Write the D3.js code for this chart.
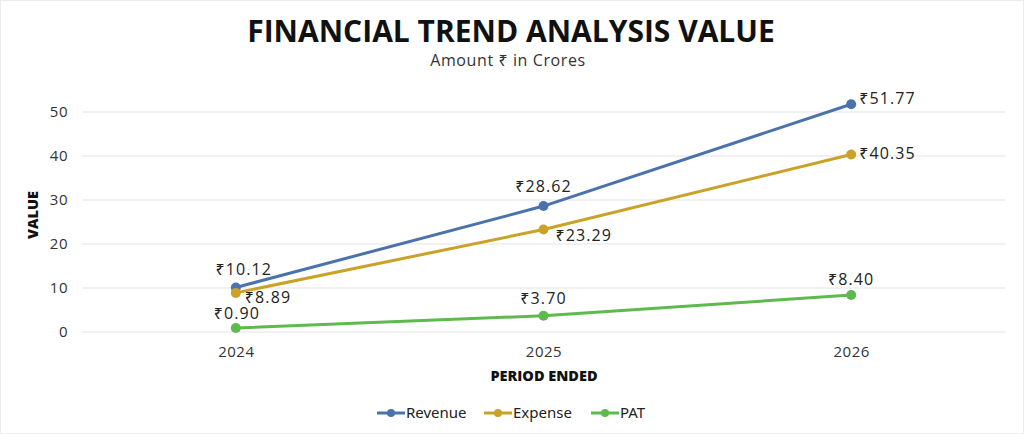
<!DOCTYPE html>
<html lang="en">
<head>
  <meta charset="UTF-8">
  <title>Financial Trend Analysis Value</title>
  <style>
    html, body { margin: 0; padding: 0; background: #fff; }
    * { font-family: 'Open Sans', 'Noto Sans', Arial, sans-serif; }
    #chart { width: 1024px; height: 434px; }
  </style>
</head>
<body>
  <div id="chart"></div>
<script src="https://d3js.org/d3.v7.min.js"></script>
<script>
    // data
    var years = ["2024", "2025", "2026"];
    var revenue = [10.12, 28.62, 51.77];
    var expense = [8.89, 23.29, 40.35];
    var pat = [0.90, 3.70, 8.40];
    var seriesNames = ["Revenue", "Expense", "PAT"];
    var yTicks = [0, 10, 20, 30, 40, 50];

    var colors = {Revenue: "#4a72ad", Expense: "#c9a227", PAT: "#5dba4c"};
    // label offset per series/point: [dx, dy, anchor]
    var labelPos = {
        Revenue: [[8, -12, "middle"], [0, -14, "middle"], [8, 0, "start"]],
        Expense: [[9, 10, "start"], [12, 11, "start"], [8, 5, "start"]],
        PAT: [[1, -9, "middle"], [0, -12, "middle"], [0, -10, "middle"]]
    };

    var width = 1024, height = 434;
    var margin = {left: 82, right: 19};
    var yZero = 332, yTop = 112;

    var svg = d3.select("#chart").append("svg")
        .attr("width", width).attr("height", height);

    // faint frame like the screenshot
    svg.append("rect").attr("x", 0.5).attr("y", 0.5)
        .attr("width", width - 1).attr("height", height - 1)
        .attr("fill", "none").attr("stroke", "#ececec");

    var x = d3.scalePoint()
        .domain(years)
        .range([margin.left, width - margin.right])
        .padding(0.5);

    var y = d3.scaleLinear()
        .domain([0, 50])
        .range([yZero, yTop]);

    // gridlines
    svg.append("g")
        .selectAll("line")
        .data(yTicks)
        .join("line")
        .attr("x1", margin.left)
        .attr("x2", width - margin.right)
        .attr("y1", d => y(d))
        .attr("y2", d => y(d))
        .attr("stroke", "#e3e3e3")
        .attr("stroke-width", 1);

    // y axis labels
    var yAxis = svg.append("g")
        .attr("transform", "translate(" + margin.left + ",0)")
        .call(d3.axisLeft(y).tickValues(yTicks).tickSize(0).tickPadding(14));
    yAxis.select(".domain").remove();
    yAxis.selectAll("text").attr("font-size", 15).attr("fill", "#333")
        .style("font-family", "'Open Sans', sans-serif")
        .style("letter-spacing", "0.5px");

    // x axis labels
    var xAxis = svg.append("g")
        .attr("transform", "translate(0," + yZero + ")")
        .call(d3.axisBottom(x).tickSize(0).tickPadding(14));
    xAxis.select(".domain").remove();
    xAxis.selectAll("text").attr("font-size", 15).attr("fill", "#333")
        .style("font-family", "'Open Sans', sans-serif")
        .style("letter-spacing", "0.5px");

    // titles
    svg.append("text")
        .attr("x", 511).attr("y", 42)
        .attr("text-anchor", "middle")
        .attr("font-size", 30).attr("font-weight", 700)
        .attr("fill", "#111")
        .text("FINANCIAL TREND ANALYSIS VALUE");

    svg.append("text")
        .attr("x", 508).attr("y", 66)
        .attr("text-anchor", "middle")
        .attr("font-size", 16).attr("fill", "#333")
        .style("letter-spacing", "0.6px")
        .text("Amount ₹ in Crores");

    svg.append("text")
        .attr("transform", "translate(38," + 215 + ") rotate(-90)")
        .attr("text-anchor", "middle")
        .attr("font-size", 14.5).attr("font-weight", 800)
        .attr("fill", "#111")
        .text("VALUE");

    svg.append("text")
        .attr("x", 544).attr("y", 381)
        .attr("text-anchor", "middle")
        .attr("font-size", 14.5).attr("font-weight", 800)
        .attr("fill", "#111")
        .text("PERIOD ENDED");

    var series = [
        {name: "Revenue", values: revenue},
        {name: "Expense", values: expense},
        {name: "PAT", values: pat}
    ];

    var line = d3.line()
        .x((d, i) => x(years[i]))
        .y(d => y(d));

    series.forEach(function(s) {
        var g = svg.append("g");
        g.append("path")
            .attr("d", line(s.values))
            .attr("fill", "none")
            .attr("stroke", colors[s.name])
            .attr("stroke-width", 3);

        g.selectAll("circle")
            .data(s.values)
            .join("circle")
            .attr("cx", (d, i) => x(years[i]))
            .attr("cy", d => y(d))
            .attr("r", 5)
            .attr("fill", colors[s.name]);

        g.selectAll("text")
            .data(s.values)
            .join("text")
            .attr("x", (d, i) => x(years[i]) + labelPos[s.name][i][0])
            .attr("y", (d, i) => y(d) + labelPos[s.name][i][1])
            .attr("text-anchor", (d, i) => labelPos[s.name][i][2])
            .attr("font-size", 16)
            .style("letter-spacing", "1.1px")
            .attr("fill", "#222")
            .text(d => "₹" + d.toFixed(2));
    });

    // legend
    var legend = svg.append("g").attr("transform", "translate(377,413)");
    var offsets = [0, 107, 214];
    seriesNames.forEach(function(n, i) {
        var lg = legend.append("g").attr("transform", "translate(" + offsets[i] + ",0)");
        lg.append("line")
            .attr("x1", 0).attr("x2", 28)
            .attr("y1", 0).attr("y2", 0)
            .attr("stroke", colors[n]).attr("stroke-width", 3);
        lg.append("circle")
            .attr("cx", 14).attr("cy", 0).attr("r", 4)
            .attr("fill", colors[n]);
        lg.append("text")
            .attr("x", 29).attr("y", 5)
            .attr("font-size", 15)
            .attr("fill", "#222")
            .style("font-family", "'Noto Sans', sans-serif")
            .text(n);
    });
</script>
</body>
</html>
